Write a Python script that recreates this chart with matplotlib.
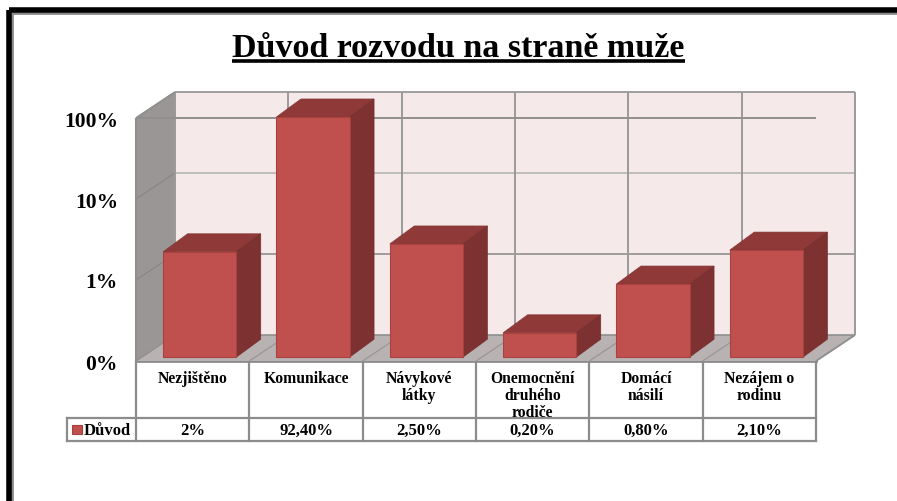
import matplotlib
matplotlib.use('Agg')
import matplotlib.pyplot as plt
from matplotlib.patches import Polygon, Rectangle
from matplotlib.transforms import Affine2D, IdentityTransform

categories = ['Nezjištěno', 'Komunikace', 'Návykové\nlátky', 'Onemocnění\ndruhého\nrodiče', 'Domácí\nnásilí', 'Nezájem o\nrodinu']
values = [2, 92.4, 2.5, 0.2, 0.8, 2.1]
value_labels = ['2%', '92,40%', '2,50%', '0,20%', '0,80%', '2,10%']
y_ticks = [0.1, 1, 10, 100]
y_tick_labels = ['0%', '1%', '10%', '100%']
series_name = 'Důvod'
title = 'Důvod rozvodu na straně muže'

W, H = 897, 502
plt.rcParams['font.family'] = ['Liberation Serif', 'DejaVu Serif']
plt.rcParams['font.weight'] = 'bold'

fig = plt.figure(figsize=(W / 100, H / 100), dpi=100)


def box(x0, y0, x1, y1):
    return [x0 / W, 1 - y1 / H, (x1 - x0) / W, (y1 - y0) / H]


# frame
frame = fig.add_axes([0, 0, 1, 1])
frame.set_xlim(0, W)
frame.set_ylim(H, 0)
frame.axis('off')
frame.add_patch(Rectangle((12, 14), W, H, fc='none', ec='#8a8a8a', lw=2))
frame.add_patch(Rectangle((8.5, 11), W, H, fc='none', ec='black', lw=4))

frame.text(458.5, 57, title, fontsize=24.5, ha='center', va='baseline', color='black')
frame.plot([232, 685], [61.5, 61.5], color='black', lw=2.6, solid_capstyle='butt')

# front plane of the 3d box
X0, X1, Y_TOP, Y_BOT = 136, 816, 119, 362
DX, DY = 39, 26
ax = fig.add_axes(box(X0, Y_TOP, X1, Y_BOT))
ax.set_yscale('log')
ax.set_ylim(0.1, 100)
ax.set_xlim(0, len(categories))
ax.patch.set_alpha(0)
for s in ax.spines.values():
    s.set_visible(False)
ax.set_xticks([])
ax.minorticks_off()
ax.set_yticks(y_ticks)
ax.set_yticklabels(y_tick_labels, fontsize=15.5)
ax.tick_params(axis='y', length=0, pad=13)

GRID = '#8f8f8f'
ident = IdentityTransform()


def pt(x, v, d=0.0):
    p = ax.transData.transform((x, v))
    return (p[0] + DX * d, p[1] + DY * d)


def bar_pt(x, v, back=False):
    # bar corners sit a little behind the front plane
    p = ax.transData.transform((x, v))
    px_, py_ = p[0] + BAR_OX, p[1] + BAR_OY
    if back:
        px_, py_ = px_ + BAR_DX, py_ + BAR_DY
    return (px_, py_)


def poly(points, **kw):
    ax.add_patch(Polygon(points, closed=True, transform=ident, clip_on=False, **kw))


def seg(a, b, **kw):
    ax.plot([a[0], b[0]], [a[1], b[1]], transform=ident, clip_on=False,
            solid_capstyle='butt', **kw)


n = len(categories)
poly([pt(0, 0.1, 1), pt(n, 0.1, 1), pt(n, 100, 1), pt(0, 100, 1)], fc='#f5e9e9', ec='none', zorder=1)
poly([pt(0, 0.1, 0), pt(0, 0.1, 1), pt(0, 100, 1), pt(0, 100, 0)], fc='#9b9696', ec='none', zorder=1)
poly([pt(0, 0.1, 0), pt(n, 0.1, 0), pt(n, 0.1, 1), pt(0, 0.1, 1)], fc='#b8b2b2', ec='none', zorder=1)

grid_colors = {0.1: '#8f8f8f', 1: '#8f8f8f', 10: '#b5b5b5', 100: '#8f8f8f'}
for t in y_ticks:
    seg(pt(0, t, 0), pt(0, t, 1), color='#868484', lw=0.8, zorder=2)
    seg(pt(0, t, 1), pt(n, t, 1), color=grid_colors[t], lw=1.2, zorder=2)
for i in range(n + 1):
    seg(pt(i, 0.1, 1), pt(i, 100, 1), color='#9a9a9a', lw=1.4, zorder=2)
    seg(pt(i, 0.1, 0), pt(i, 0.1, 1), color='#979393', lw=0.8, zorder=2)
seg(pt(0, 0.1, 0), pt(0, 100, 0), color=GRID, lw=1.5, zorder=2)
seg(pt(n, 0.1, 0), pt(n, 0.1, 1), color=GRID, lw=1.3, zorder=2)

# bars
BAR_OX, BAR_OY = 7.0, 3.8
BAR_DX, BAR_DY = 24.5, 18
BW = 0.645
offset = Affine2D().translate(BAR_OX, BAR_OY)
xs = [i + 0.5 for i in range(n)]
ax.bar(xs, [v - 0.1 for v in values], bottom=0.1, width=BW, color='#c0504d',
       edgecolor='#a9423f', lw=0.8, transform=ax.transData + offset, clip_on=False, zorder=5)
for x, v in zip(xs, values):
    l, r = x - BW / 2, x + BW / 2
    poly([bar_pt(l, v), bar_pt(r, v), bar_pt(r, v, True), bar_pt(l, v, True)],
         fc='#8f3a38', ec='#843533', lw=0.5, zorder=4)
    poly([bar_pt(r, 0.1), bar_pt(r, 0.1, True), bar_pt(r, v, True), bar_pt(r, v)],
         fc='#7d3130', ec='#752e2d', lw=0.5, zorder=4)

# front 100% line passes over the walls
seg(pt(0, 100, 0), pt(n, 100, 0), color=GRID, lw=1.4, zorder=3)
seg(pt(0, 100, 0), pt(0, 100, 1), color=GRID, lw=1.3, zorder=3)

# data table below the chart
R0, R1, R2 = 362, 419, 442
LEG = 67
col_w = (X1 - X0) / n
TL = '#8c8c8c'
frame.plot([X0, X1], [R0, R0], color=TL, lw=2)
frame.plot([LEG, X1], [R1, R1], color=TL, lw=1.6)
frame.plot([LEG, X1], [R2, R2], color=TL, lw=1.6)
frame.plot([LEG, LEG], [R1, R2], color=TL, lw=1.6)
for i in range(n + 1):
    frame.plot([X0 + i * col_w] * 2, [R0, R2], color=TL, lw=1.6)
for i, (c, lab) in enumerate(zip(categories, value_labels)):
    cx = X0 + (i + 0.5) * col_w
    frame.text(cx, 371, c, ha='center', va='top', fontsize=11.3, linespacing=1.08, color='black', zorder=10)
    frame.text(cx, 431, lab, ha='center', va='center', fontsize=12, color='black')
frame.add_patch(Rectangle((72, 426), 10, 9, fc='#c0504d', ec='#a5403d', lw=0.8))
frame.text(84, 431, series_name, ha='left', va='center', fontsize=12, color='black')

fig.savefig('out.png', dpi=100)
